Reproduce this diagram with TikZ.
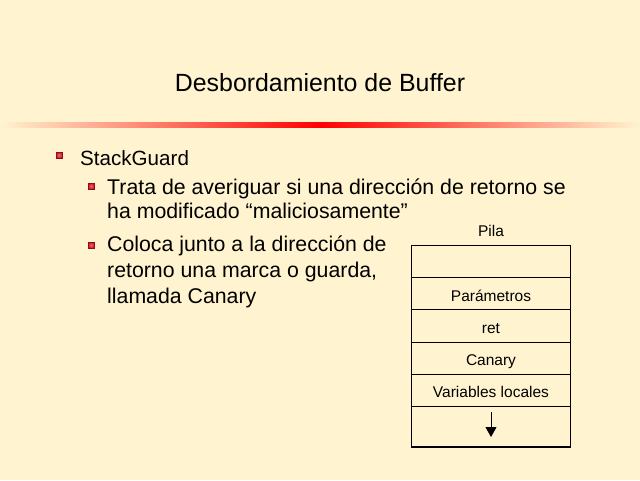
\documentclass[tikz,border=0pt]{standalone}
\usepackage{fontspec}
\setmainfont{Liberation Sans}
\usetikzlibrary{arrows.meta}
\definecolor{bg}{RGB}{255,244,207}
\definecolor{rline}{RGB}{255,0,0}
\definecolor{bullred}{RGB}{205,20,35}
\definecolor{bulldark}{RGB}{150,10,20}
\begin{document}
\begin{tikzpicture}[x=1pt,y=-1pt,
  txt/.style={anchor=base west,inner sep=0pt,font=\fontsize{21.3}{25}\selectfont},
  txtone/.style={anchor=base west,inner sep=0pt,font=\fontsize{20.6}{25}\selectfont},
  celltxt/.style={anchor=base,inner sep=0pt,font=\fontsize{15.5}{18}\selectfont},
  bull/.style={inner color=bullred!60!white,outer color=bullred,draw=bulldark,line width=0.5pt,minimum size=6pt,inner sep=0pt},
  cellline/.style={line width=1pt}]
\fill[bg] (0,0) rectangle (640,480);
\useasboundingbox (0,0) rectangle (640,480);
% title
\node[anchor=base,inner sep=0pt,font=\fontsize{24.9}{28}\selectfont] (title) at (320,91.5) {Desbordamiento de Buffer};
% gradient rule
\shade[left color=bg,right color=rline] (0,122.8) rectangle (320,127.2);
\shade[left color=rline,right color=bg] (320,122.8) rectangle (640,127.2);
% bullets
\node[bull] (b1) at (59,155) {};
\node[bull] (b2) at (91,186) {};
\node[bull] (b3) at (91,245) {};
\node[txtone] (t1) at (80,165) {StackGuard};
\node[txt] (t2) at (107,194) {Trata de averiguar si una dirección de retorno se};
\node[txt] (t3) at (107,218) {ha modificado “maliciosamente”};
\node[txt] (t4) at (107,251) {Coloca junto a la dirección de};
\node[txt] (t5) at (107,277) {retorno una marca o guarda,};
\node[txt] (t6) at (107,303) {llamada Canary};
% stack
\node[celltxt] (pila) at (491,236.5) {Pila};
\draw[cellline] (411,245) rectangle (570,447);
\draw[cellline] (411,277) -- (570,277);
\draw[cellline] (411,309) -- (570,309);
\draw[cellline] (411,342) -- (570,342);
\draw[cellline] (411,374) -- (570,374);
\draw[cellline] (411,406) -- (570,406);
\draw[line width=2pt] (410.5,447) -- (570.5,447);
\node[celltxt] (par) at (491,301) {Parámetros};
\node[celltxt] (ret) at (491,333) {ret};
\node[celltxt] (can) at (491,365) {Canary};
\node[celltxt] (var) at (491,397) {Variables locales};
\coordinate (arA) at (491,412);
\coordinate (arB) at (491,437);
\draw[line width=1pt,-{Triangle[length=10pt,width=11pt]}] (arA) -- (arB);
\end{tikzpicture}
\end{document}
